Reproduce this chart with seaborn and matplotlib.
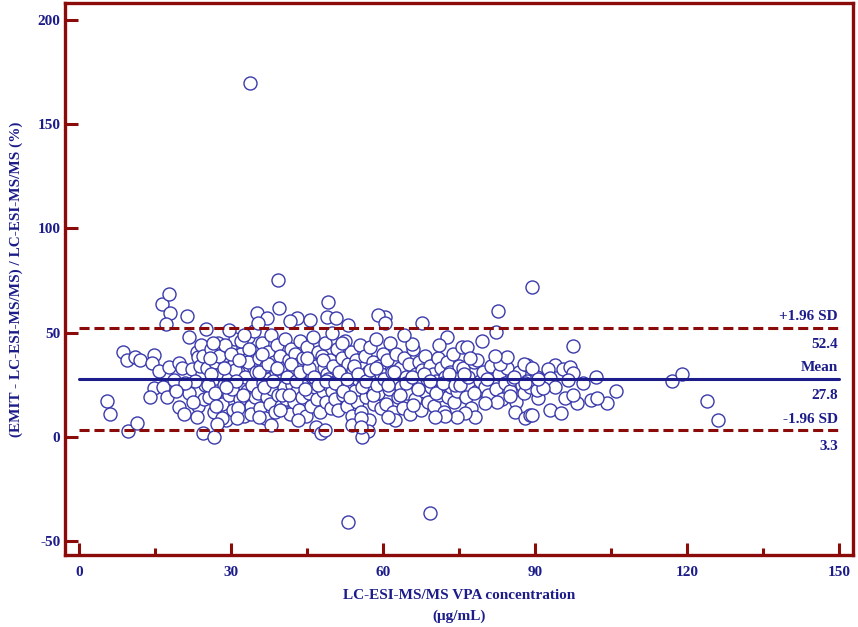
import matplotlib
matplotlib.use("Agg")
import matplotlib.pyplot as plt
import numpy as np
import pandas as pd
import seaborn as sns

# statistiques de Bland-Altman
mean_diff = 27.8
upper_loa = 52.4
lower_loa = 3.3

# points a gauche (x < 25)
conc_left = [5.5, 6.1, 8.7, 9.4, 9.5, 11.0, 11.4, 12.0, 14.7, 14.3, 14.7, 14.0,
             15.8, 16.6, 17.3, 17.6, 18.6, 19.6, 19.6, 16.3, 17.6, 17.9, 17.1, 20.6, 20.3,
             21.2, 21.6, 21.6, 22.2, 23.2, 23.5, 23.5, 23.2, 24.5, 24.9,
             24.2, 24.8, 24.0, 24.6, 22.8, 23.9, 20.9, 19.0, 22.5, 24.4]
diff_left = [17.4, 11.0, 40.9, 36.9, 3.0, 38.2, 6.6, 36.9, 39.3, 35.6, 23.3, 19.0,
             31.6, 24.1, 19.0, 33.4, 27.3, 35.3, 14.5, 64.0, 68.5, 59.6, 54.1, 11.0, 32.9,
             58.0, 47.8, 20.9, 32.4, 40.9, 38.2, 14.9, 9.7, 2.1, 51.6,
             30.0, 25.0, 44.0, 18.0, 27.0, 34.0, 26.0, 22.0, 17.0, 39.0]

# coeur du nuage, 25-35
conc_a = [25.2, 25.5, 25.9, 26.2, 26.6, 26.8, 27.1, 27.4, 27.8, 28.1, 28.3, 28.6, 28.9, 29.2,
          29.5, 29.7, 30.0, 30.3, 30.6, 30.8, 31.1, 31.4, 31.7, 32.0, 32.2, 32.5, 32.8, 33.1,
          33.3, 33.6, 33.9, 34.2, 34.4, 34.7, 35.0,
          25.4, 26.0, 26.7, 27.5, 28.2, 28.8, 29.3, 30.1, 30.7, 31.3, 31.9, 32.6, 33.2, 33.8, 34.5,
          25.7, 27.0, 28.5, 29.9, 31.0, 32.3, 33.5, 34.8, 26.3, 29.0, 31.6, 34.0,
          26.5, 27.2, 29.5]
diff_a = [33, 19, 42, 27, 12, 36, 22, 45, 30, 16, 38, 25, 8, 33,
          20, 43, 28, 13, 35, 47, 24, 31, 18, 40, 26, 10, 37, 22,
          48, 29, 15, 41, 33, 19, 27,
          25, 30, 21, 39, 9, 44, 28, 23, 32, 14, 46, 29, 36, 11, 51,
          38, 15, 33, 40, 27, 20, 42, 31, 45, 24, 37, 25,
          0.1, 6.2, 51.3]

# 35-50
conc_b = [35.2, 35.4, 35.7, 35.9, 36.1, 36.3, 36.6, 36.8, 37.0, 37.2, 37.5, 37.7, 37.9, 38.1,
          38.4, 38.6, 38.8, 39.0, 39.3, 39.5, 39.7, 39.9, 40.2, 40.4, 40.6, 40.8, 41.1, 41.3,
          41.5, 41.7, 42.0, 42.2, 42.4, 42.6, 42.9, 43.1, 43.3, 43.5, 43.8, 44.0, 44.2, 44.4,
          44.7, 44.9, 45.1, 45.3, 45.6, 45.8, 46.0, 46.2, 46.5, 46.7, 46.9, 47.1, 47.4, 47.6,
          47.8, 48.0, 48.3, 48.5, 48.7, 48.9, 49.2, 49.4, 49.6, 49.8,
          35.5, 36.4, 37.3, 38.2, 39.1, 40.0, 40.9, 41.8, 42.7, 43.6, 44.5, 45.4, 46.3, 47.2,
          48.1, 49.0, 49.9, 36.0, 37.8, 39.6, 41.4, 43.2, 45.0, 46.8, 48.6]
diff_b = [21, 38, 14, 30, 45, 26, 9, 34, 19, 41, 28, 16, 49, 23,
          36, 12, 31, 44, 20, 27, 39, 15, 33, 24, 47, 18, 29, 37,
          11, 42, 25, 32, 17, 40, 22, 35, 13, 46, 28, 19, 38, 26,
          10, 43, 31, 21, 36, 15, 29, 48, 24, 34, 18, 41, 27, 12,
          39, 22, 33, 45, 17, 30, 25, 37, 14, 50,
          31, 24, 35, 27, 33, 20, 29, 35, 27, 31, 23, 33, 29, 25,
          37, 28, 22, 40, 6, 13, 20, 8, 38, 5, 27]

# 50-60
conc_c = [50.1, 50.4, 50.6, 50.9, 51.1, 51.4, 51.6, 51.9, 52.1, 52.4, 52.6, 52.9, 53.1, 53.4,
          53.6, 53.9, 54.1, 54.4, 54.6, 54.9, 55.1, 55.4, 55.6, 55.9, 56.1, 56.4, 56.6, 56.9,
          57.1, 57.4, 57.6, 57.9, 58.1, 58.4, 58.6, 58.9, 59.1, 59.4, 59.6, 59.9,
          50.5, 51.3, 52.0, 52.8, 53.5, 54.3, 55.0, 55.8, 56.5, 57.3, 58.0, 58.8, 59.5,
          51.8, 53.8, 55.5, 57.0, 58.5]
diff_c = [34, 18, 27, 42, 13, 30, 24, 38, 20, 46, 29, 15, 35, 25,
          41, 10, 32, 22, 37, 17, 28, 44, 12, 33, 26, 39, 19, 31,
          8, 43, 23, 36, 16, 29, 47, 21, 34, 27, 14, 40,
          26, 31, 22, 28, 19, 34, 30, 24, 27, 32, 20, 25, 30,
          45, 6, 9, 3, 33]

# 60-75
conc_d = [60.2, 60.5, 60.8, 61.1, 61.4, 61.7, 62.0, 62.3, 62.6, 62.9, 63.2, 63.5, 63.8, 64.1,
          64.4, 64.7, 65.0, 65.3, 65.6, 65.9, 66.2, 66.5, 66.8, 67.1, 67.4, 67.7, 68.0, 68.3,
          68.6, 68.9, 69.2, 69.5, 69.8, 70.1, 70.4, 70.7, 71.0, 71.3, 71.6, 71.9, 72.2, 72.5,
          72.8, 73.1, 73.4, 73.7, 74.0, 74.3, 74.6, 74.9,
          60.9, 62.1, 63.3, 64.5, 65.7, 66.9, 68.1, 69.3, 70.5, 71.7, 72.9, 74.1]
diff_d = [28, 16, 37, 23, 45, 31, 12, 26, 40, 19, 33, 24, 14, 38,
          29, 21, 35, 11, 27, 42, 18, 30, 25, 36, 13, 32, 22, 39,
          28, 17, 34, 24, 30, 15, 27, 38, 20, 33, 26, 12, 29, 36,
          19, 31, 24, 40, 17, 28, 22, 34,
          25, 31, 20, 26, 29, 23, 30, 27, 21, 26, 30, 25]

# 75-90
conc_e = [75.2, 75.7, 76.3, 76.8, 77.4, 77.9, 78.5, 79.0, 79.6, 80.1, 80.7, 81.2, 81.8, 82.3,
          82.9, 83.4, 84.0, 84.5, 85.1, 85.6, 86.2, 86.7, 87.3, 87.8, 88.4, 88.9,
          76.0, 78.0, 80.4, 83.0, 85.8, 88.0]
diff_e = [25, 33, 19, 29, 14, 36, 22, 27, 31, 24, 20, 34, 28, 23,
          30, 18, 26, 33, 22, 28, 17, 31, 25, 21, 27, 24,
          30, 21, 28, 35, 29, 26]

# points aux bords du nuage (60-90)
conc_edge = [79.4, 75.5, 76.5, 72.5, 67.6, 70.9, 65.6, 64.0, 60.4, 88.3, 87.7, 84.4, 82.1,
             78.4, 77.1, 86.0, 88.0, 89.0, 78.1, 76.1, 74.6, 72.2, 70.2, 62.3, 61.0, 65.9,
             82.4, 80.1, 85.0, 82.2, 82.7]
diff_edge = [46.1, 43.3, 43.3, 48.1, 54.8, 44.1, 44.6, 48.9, 57.7, 34.5, 35.0, 38.2, 38.8,
             36.9, 37.7, 12.1, 9.0, 10.5, 9.7, 11.7, 9.7, 10.0, 9.7, 8.1, 9.7, 15.3,
             16.9, 16.1, 19.6, 50.5, 60.5]

# points aux bords du nuage (30-60)
conc_rim = [35.0, 37.0, 39.4, 42.9, 41.5, 45.6, 49.0, 48.9, 50.7, 53.1, 59.0, 60.4, 35.2,
            32.4, 31.1, 35.4, 47.7, 48.5, 55.8, 55.6]
diff_rim = [59.6, 56.9, 61.8, 57.0, 55.7, 56.0, 64.8, 57.7, 57.2, 53.7, 58.5, 54.5, 54.5,
            48.9, 9.0, 9.7, 2.1, 3.4, 0.1, 4.9]

# au-dela de 89
conc_right = [89.3, 97.5, 93.9, 92.6, 95.5, 96.8, 97.5, 90.3, 92.9, 96.5, 99.5, 102.0, 116.9,
              118.9, 106.0, 104.1, 101.1, 102.1, 98.2, 95.9, 97.5, 93.9, 90.6, 90.3, 91.6,
              92.9, 95.0, 89.3, 89.3, 90.6, 123.9, 126.0]
diff_right = [71.7, 43.6, 34.5, 32.4, 32.4, 33.7, 30.8, 28.9, 28.1, 27.3, 26.0, 28.9, 27.0,
              30.0, 22.2, 16.1, 17.7, 18.5, 16.1, 18.5, 20.1, 23.8, 18.5, 22.5, 23.5,
              12.9, 11.6, 10.5, 32.9, 28.0, 17.2, 8.1]

# valeurs aberrantes
conc_out = [33.7, 53.1, 69.2, 39.3]
diff_out = [169.6, -40.7, -36.4, 75.2]

x_ticks = [0, 30, 60, 90, 120, 150]
y_ticks = [-50, 0, 50, 100, 150, 200]

conc = conc_left + conc_a + conc_b + conc_c + conc_d + conc_e + conc_edge + conc_rim + conc_right + conc_out
diff = diff_left + diff_a + diff_b + diff_c + diff_d + diff_e + diff_edge + diff_rim + diff_right + diff_out
df = pd.DataFrame({"conc": conc, "diff": diff})

navy = "#1c1c8a"
red = "#8b0a0a"
dot = "#3a3aac"

sns.set_theme(style="white")
plt.rcParams["font.family"] = ["Liberation Serif", "DejaVu Serif"]
plt.rcParams["font.weight"] = "bold"
plt.rcParams["axes.unicode_minus"] = False

fig = plt.figure(figsize=(8.58, 6.27), dpi=100)
ax = fig.add_axes([0.076, 0.115, 0.918, 0.88])

sns.scatterplot(data=df, x="conc", y="diff", ax=ax, s=88, color="white",
                edgecolor=dot, linewidth=1.0, zorder=2, legend=False)

x0, x1 = x_ticks[0], x_ticks[-1]
ax.plot([x0, x1], [mean_diff, mean_diff], color=navy, lw=2.2, zorder=3)
for v in (upper_loa, lower_loa):
    ax.plot([x0, x1], [v, v], color=red, lw=2.2, dashes=(3.3, 1.6), zorder=3)

labels = [("+1.96 SD", upper_loa, 8), (f"{upper_loa:.1f}", upper_loa, -12),
          ("Mean", mean_diff, 8), (f"{mean_diff:.1f}", mean_diff, -12),
          ("-1.96 SD", lower_loa, 8), (f"{lower_loa:.1f}", lower_loa, -12)]
for txt, v, dy in labels:
    ax.annotate(txt, xy=(x1, v), xytext=(-1, dy), textcoords="offset points",
                ha="right", va="center", color=navy, fontsize=11, fontweight="bold")

ax.set_xlim(-2.8, 152.7)
ax.set_ylim(-56.5, 208)
ax.set_xticks(x_ticks)
ax.set_xticks([15, 45, 75, 105, 135], minor=True)
ax.set_yticks(y_ticks)

for s in ax.spines.values():
    s.set_color(red)
    s.set_linewidth(2.4)
ax.tick_params(axis="both", which="major", direction="in", length=9, width=2.2,
               color=red, labelcolor=navy, labelsize=11)
ax.tick_params(axis="y", which="major", pad=3.5)
ax.tick_params(axis="x", which="major", pad=8)
ax.tick_params(axis="x", which="minor", direction="in", length=5, width=2.2, color=red)
ax.tick_params(axis="x", which="both", bottom=True)
ax.tick_params(axis="y", which="both", left=True)

ax.set_xlabel("LC-ESI-MS/MS VPA concentration\n(\u03bcg/mL)", color=navy, fontsize=11,
              fontweight="bold", labelpad=7, linespacing=1.75)
ax.set_ylabel("(EMIT - LC-ESI-MS/MS) / LC-ESI-MS/MS (%)", color=navy, fontsize=11,
              fontweight="bold", labelpad=10)

fig.savefig("out.png", dpi=100)
